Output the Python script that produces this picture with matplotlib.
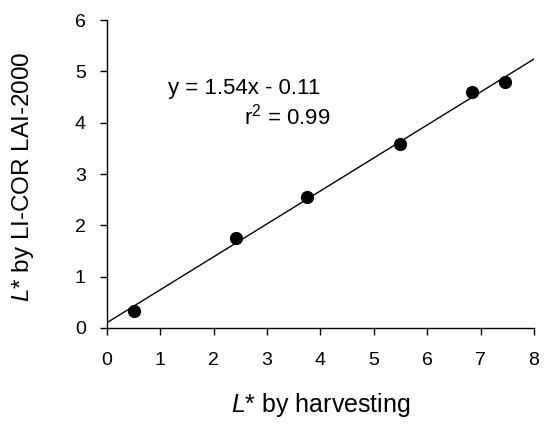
import matplotlib
matplotlib.use("Agg")
import matplotlib.pyplot as plt

# measured points
harvest = [0.52, 2.43, 3.75, 5.49, 6.84, 7.45]
licor = [0.34, 1.75, 2.55, 3.58, 4.59, 4.79]

# regression line as drawn
line_x = [0, 8]
line_y = [0.10, 5.24]

xticks = [0, 1, 2, 3, 4, 5, 6, 7, 8]
yticks = [0, 1, 2, 3, 4, 5, 6]

plt.rcParams['font.family'] = ['Liberation Sans', 'DejaVu Sans']
plt.rcParams['mathtext.fontset'] = 'custom'
plt.rcParams['mathtext.rm'] = 'Liberation Sans'
plt.rcParams['mathtext.it'] = 'Liberation Sans:italic'

fig = plt.figure(figsize=(5.48, 4.33), dpi=100)
ax = fig.add_axes([0.1947, 0.2425, 0.7798, 0.7113])

ax.plot(line_x, line_y, color='black', lw=1)
ax.plot(harvest, licor, 'o', color='black', ms=8.5)

ax.set_xlim(0, 8)
ax.set_ylim(0, 6)
ax.set_xticks(xticks)
ax.set_yticks(yticks)
ax.tick_params(labelsize=14, length=5, width=1)
ax.tick_params(axis='x', pad=12)
ax.tick_params(axis='y', pad=10)
for s in ['top', 'right']:
    ax.spines[s].set_visible(False)
for s in ['left', 'bottom']:
    ax.spines[s].set_linewidth(1)

ax.text(2.58, 4.66, 'y = 1.54x - 0.11', fontsize=16, ha='center', va='center')
ax.text(4.18, 4.11, r'r$^2$ = 0.99', fontsize=16, ha='right', va='center')

ax.set_xlabel(r'$L$* by harvesting', fontsize=18, labelpad=16)
ax.set_ylabel(r'$L$* by LI-COR LAI-2000', fontsize=17.5)
ax.yaxis.set_label_coords(-0.165, 0.49)

fig.savefig('out.png', dpi=100)
